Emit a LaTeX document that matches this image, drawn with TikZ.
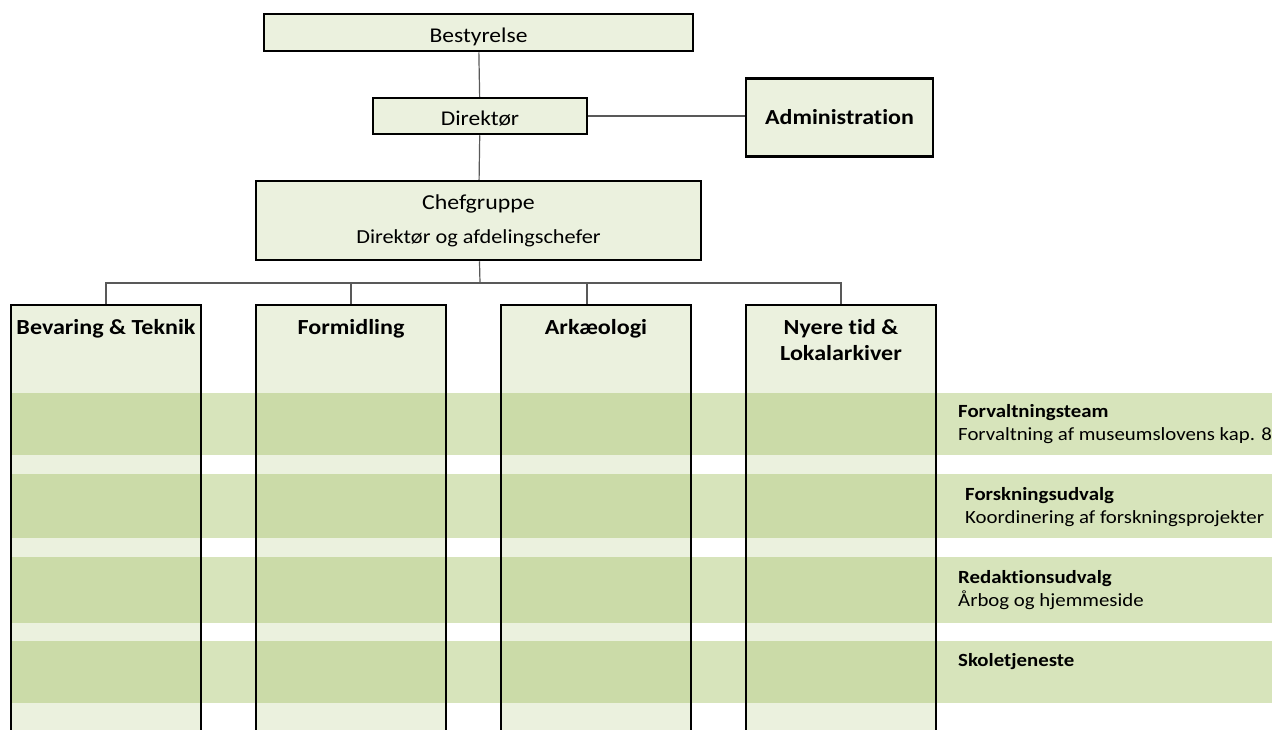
\documentclass[tikz,border=0pt]{standalone}
\usepackage{fontspec}
\setmainfont{Carlito}[FakeStretch=1.12, RawFeature={-liga}]
\usetikzlibrary{positioning}
\definecolor{boxfill}{HTML}{EBF1DE}
\definecolor{bandfill}{HTML}{A3C061}
\definecolor{linkgray}{HTML}{595959}
\tikzset{
  orgbox/.style={draw=black, line width=2.5pt, fill=boxfill, inner sep=0pt, font=\fontsize{21}{24}\selectfont},
  lowtext/.style={text height=19pt, text depth=0pt},
  link/.style={draw=linkgray, line width=1.2pt},
  column/.style={fill=boxfill, anchor=north, minimum width=190pt, minimum height=460pt, inner sep=0pt},
  colframe/.style={draw=black, line width=2.5pt},
  colhead/.style={font=\bfseries\fontsize{21.5}{26}\selectfont, align=center, inner sep=0pt},
  band/.style={fill=bandfill, fill opacity=0.43, anchor=north west, inner sep=0pt, minimum width=1262pt},
  bandlabel/.style={anchor=north west, align=left, inner sep=0pt, font=\fontsize{18.6}{23.5}\selectfont}
}
\begin{document}
\begin{tikzpicture}[x=1pt, y=-1pt]
  \useasboundingbox (0,0) rectangle (1272,729);
  \clip (0,0) rectangle (1272,729);

  % top of the chart
  \node[orgbox, lowtext, minimum width=429pt, minimum height=37pt] (best) at (478.5,32.5) {Bestyrelse};
  \node[orgbox, lowtext, minimum width=214pt, minimum height=36pt] (dir) at (480,116) {Direktør};
  \node[orgbox, minimum width=187pt, minimum height=78pt, font=\bfseries\fontsize{21.4}{24}\selectfont] (adm) at (839.5,117.5) {Administration};
  \node[orgbox, minimum width=445pt, minimum height=79pt, align=center] (chef) at (478.5,220.5)
    {{\fontsize{21.3}{24}\selectfont Chefgruppe}\\[10pt]{\fontsize{19.9}{22}\selectfont Direktør og afdelingschefer}};

  \draw[link] (best) -- (dir);
  \draw[link] (dir.east) -- (dir.east -| adm.west);
  \draw[link] (dir) -- (chef);

  % departments
  \foreach \n/\x in {bev/106, form/351, ark/596, nyt/841}
    \node[column] (\n) at (\x,305) {};

  \coordinate (bus) at (480,283);
  \draw[link] (chef) -- (bus);
  \draw[link] (bus) -| (bev.north);
  \draw[link] (bus) -| (form.north);
  \draw[link] (bus) -| ([xshift=-9pt]ark.north);
  \draw[link] (bus) -| (nyt.north);

  % cross-cutting groups
  \node[band, minimum height=62pt] (b1) at (10,393) {};
  \node[band, minimum height=64pt] (b2) at (10,474) {};
  \node[band, minimum height=66pt] (b3) at (10,557) {};
  \node[band, minimum height=62pt] (b4) at (10,641) {};

  \foreach \n in {bev, form, ark, nyt}
    \draw[colframe] (\n.south west) rectangle (\n.north east);

  \node[colhead, below=14pt of bev.north] {Bevaring \& Teknik};
  \node[colhead, below=14pt of form.north] {Formidling};
  \node[colhead, below=14pt of ark.north] {Arkæologi};
  \node[colhead, below=14pt of nyt.north] {Nyere tid \&\\Lokalarkiver};

  \node[bandlabel] at ([xshift=948pt, yshift=-11pt]b1.north west) {\textbf{Forvaltningsteam}\\Forvaltning af museumslovens kap. 8};
  \node[bandlabel] at ([xshift=955pt, yshift=-13pt]b2.north west) {\textbf{Forskningsudvalg}\\Koordinering af forskningsprojekter};
  \node[bandlabel] at ([xshift=948pt, yshift=-13pt]b3.north west) {\textbf{Redaktionsudvalg}\\Årbog og hjemmeside};
  \node[bandlabel] at ([xshift=948pt, yshift=-12pt]b4.north west) {\textbf{Skoletjeneste}};
\end{tikzpicture}
\end{document}
